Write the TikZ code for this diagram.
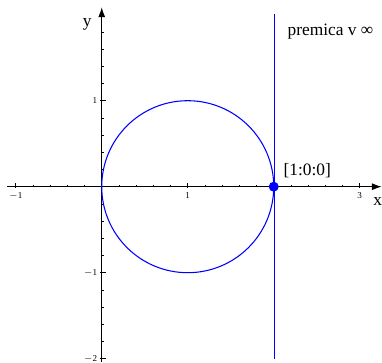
\documentclass[tikz,border=0pt]{standalone}
\usepackage{fontspec}
\setmainfont{Liberation Serif}
\usetikzlibrary{arrows.meta}

\definecolor{plotblue}{rgb}{0,0,1}
\tikzset{
    axis/.style={black, line width=0.6pt, -{Latex[length=6.5pt,width=4.6pt]}},
    curve/.style={plotblue, line width=0.7pt},
    ticklabel/.style={font=\fontsize{6}{7}\selectfont, inner sep=0.5pt},
    bigtext/.style={font=\fontsize{11.5}{13}\selectfont, inner sep=1pt}
}

\begin{document}
\begin{tikzpicture}[x=2.0cm, y=2.0cm]
    \useasboundingbox (-1.183,-2.050) rectangle (3.259,2.171);
    % ticks
    \foreach \t in {-1.0,-0.8,...,3.05} {
        \draw[line width=0.4pt] (\t,0) -- (\t,0.025);
    }
    \foreach \t in {-2.0,-1.8,...,1.85} {
        \draw[line width=0.4pt] (0,\t) -- (0.025,\t);
    }
    \foreach \t in {-1,1,2,3} {
        \draw[line width=0.5pt] (\t,-0.015) -- (\t,0.045);
    }
    \foreach \t in {-2,-1,1} {
        \draw[line width=0.5pt] (-0.015,\t) -- (0.045,\t);
    }
    \node[ticklabel] (xm1) at (-1,-0.108) {$-$1};
    \node[ticklabel] (xp1) at (1,-0.108) {1};
    \node[ticklabel] (xp3) at (3,-0.108) {3};
    \node[ticklabel, anchor=east] (yp1) at (-0.04,1) {1};
    \node[ticklabel, anchor=east] (ym1) at (-0.04,-1) {$-$1};
    \node[ticklabel, anchor=east] (ym2) at (-0.04,-2) {$-$2};
    % axes
    \coordinate (xmin) at (-1.10,0);
    \coordinate (xmax) at (3.256,0);
    \coordinate (ymin) at (0,-2.035);
    \coordinate (ymax) at (0,2.086);
    \draw[axis] (xmin) -- (xmax);
    \draw[axis] (ymin) -- (ymax);
    \node[bigtext] (xlabel) at (3.21,-0.17) {x};
    \node[bigtext] (ylabel) at (-0.17,1.89) {y};
    % circle and line at infinity
    \draw[curve] (1,0) circle (1);
    \coordinate (lbot) at (2.006,-2.0);
    \coordinate (ltop) at (2.006,2.01);
    \draw[curve, line width=0.8pt] (lbot) -- (ltop);
    \node[circle, fill=plotblue, inner sep=0pt, minimum size=6.6pt] (P) at (2,0) {};
    \node[bigtext] (Plabel) at (2.39,0.19) {[1:0:0]};
    \node[bigtext] (linelabel) at (2.66,1.80) {premica v ∞};
\end{tikzpicture}
\end{document}
